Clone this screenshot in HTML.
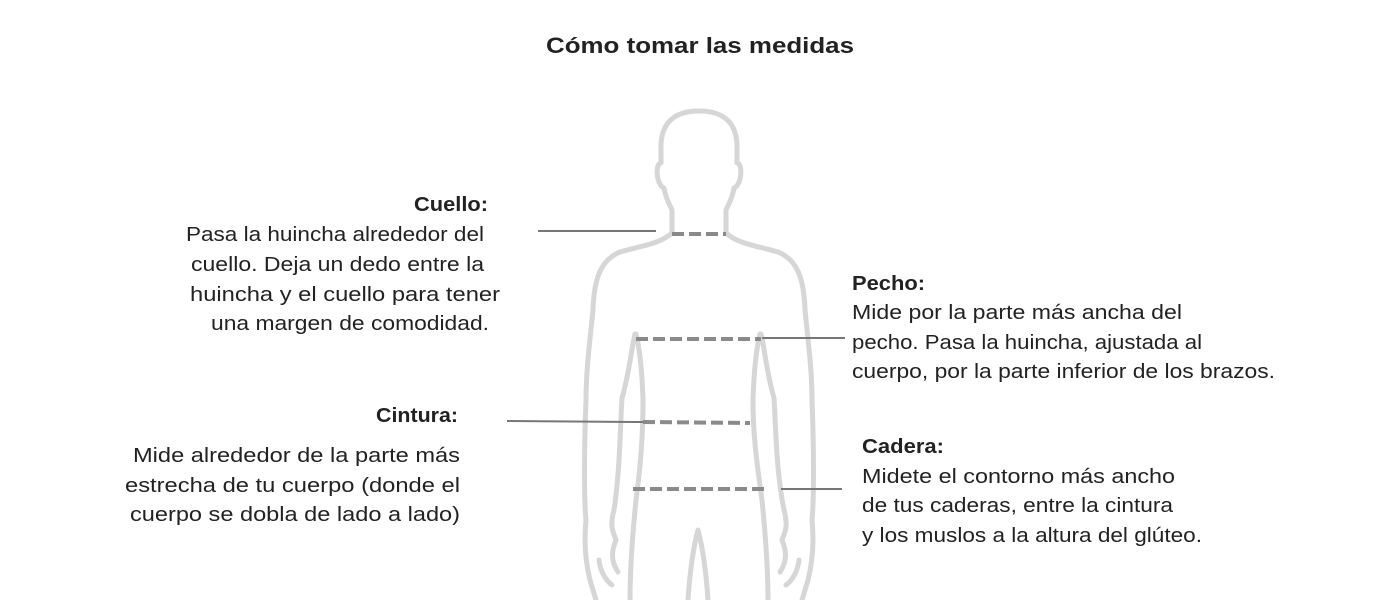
<!DOCTYPE html>
<html><head><meta charset="utf-8"><style>
html,body{margin:0;padding:0;background:#fff;}
svg{display:block}
text{font-family:"Liberation Sans",sans-serif;fill:#222;font-size:20px}
.b{font-weight:bold}
</style></head><body>
<svg width="1400" height="600" viewBox="0 0 1400 600">
<text x="546" y="53" textLength="308" lengthAdjust="spacingAndGlyphs" class="b" style="font-size:22px">Cómo tomar las medidas</text>
<g fill="none" stroke="#d6d6d6" stroke-width="5" stroke-linejoin="round" stroke-linecap="round">
<path d="M699,111 C672,111 660,125 661,150 L661,163 C655,163 656,185 664,188 C666,200 670,205 672,210 L672,233 C660,244 640,246 620,252 C600,260 594,280 593,310 C590,340 586,370 586,400 C584,450 584,500 586,520 C584,540 585,560 590,580 L596,600"/>
<path d="M635,334 C631,350 630,370 622,398 C620,430 620,470 614,510 C610,525 612,530 616,540 C612,550 610,560 618,572"/>
<path d="M636,334 C640,350 642,370 643,400 C643,440 640,470 636,500 C632,540 630,570 630,600"/>
<path d="M599,560 C600,570 605,580 612,585"/>
<path d="M699,111 C726,111 738,125 737,150 L737,163 C743,163 742,185 734,188 C732,200 728,205 726,210 L726,233 C738,244 758,246 778,252 C798,260 804,280 805,310 C808,340 812,370 812,400 C814,450 814,500 812,520 C814,540 813,560 808,580 L802,600"/>
<path d="M761,334 C765,350 766,370 774,398 C776,430 776,470 784,510 C788,525 786,530 782,540 C786,550 788,560 780,572"/>
<path d="M760,334 C756,350 754,370 753,400 C753,440 758,470 762,500 C766,540 768,570 768,600"/>
<path d="M799,560 C798,570 793,580 786,585"/>
<path d="M688,600 C690,570 694,545 698,530 C702,545 706,570 708,600"/>
</g>
<g stroke="#8a8a8a" stroke-width="4" stroke-dasharray="12,5" fill="none">
<line x1="672" y1="234" x2="726" y2="234"/>
<line x1="636" y1="339" x2="761" y2="339"/>
<line x1="643" y1="422" x2="750" y2="423"/>
<line x1="633" y1="489" x2="769" y2="489"/>
</g>
<g stroke="#777" stroke-width="2">
<line x1="538" y1="231" x2="656" y2="231"/>
<line x1="762" y1="338" x2="845" y2="338"/>
<line x1="507" y1="421" x2="643" y2="422"/>
<line x1="781" y1="489" x2="842" y2="489"/>
</g>
<g lengthAdjust="spacingAndGlyphs">
<text x="414" y="211" textLength="74" lengthAdjust="spacingAndGlyphs" class="b">Cuello:</text>
<text x="186" y="241" textLength="298" lengthAdjust="spacingAndGlyphs">Pasa la huincha alrededor del</text>
<text x="191" y="271" textLength="293" lengthAdjust="spacingAndGlyphs">cuello. Deja un dedo entre la</text>
<text x="190" y="301" textLength="310" lengthAdjust="spacingAndGlyphs">huincha y el cuello para tener</text>
<text x="211" y="330" textLength="278" lengthAdjust="spacingAndGlyphs">una margen de comodidad.</text>
<text x="376" y="422" textLength="82" lengthAdjust="spacingAndGlyphs" class="b">Cintura:</text>
<text x="133" y="462" textLength="327" lengthAdjust="spacingAndGlyphs">Mide alrededor de la parte más</text>
<text x="125" y="492" textLength="335" lengthAdjust="spacingAndGlyphs">estrecha de tu cuerpo (donde el</text>
<text x="130" y="521" textLength="330" lengthAdjust="spacingAndGlyphs">cuerpo se dobla de lado a lado)</text>
<text x="852" y="290" textLength="73" lengthAdjust="spacingAndGlyphs" class="b">Pecho:</text>
<text x="852" y="319" textLength="330" lengthAdjust="spacingAndGlyphs">Mide por la parte más ancha del</text>
<text x="852" y="349" textLength="350" lengthAdjust="spacingAndGlyphs">pecho. Pasa la huincha, ajustada al</text>
<text x="852" y="378" textLength="423" lengthAdjust="spacingAndGlyphs">cuerpo, por la parte inferior de los brazos.</text>
<text x="862" y="453" textLength="82" lengthAdjust="spacingAndGlyphs" class="b">Cadera:</text>
<text x="862" y="483" textLength="313" lengthAdjust="spacingAndGlyphs">Midete el contorno más ancho</text>
<text x="862" y="512" textLength="311" lengthAdjust="spacingAndGlyphs">de tus caderas, entre la cintura</text>
<text x="862" y="542" textLength="340" lengthAdjust="spacingAndGlyphs">y los muslos a la altura del glúteo.</text>
</g>
</svg>
</body></html>
